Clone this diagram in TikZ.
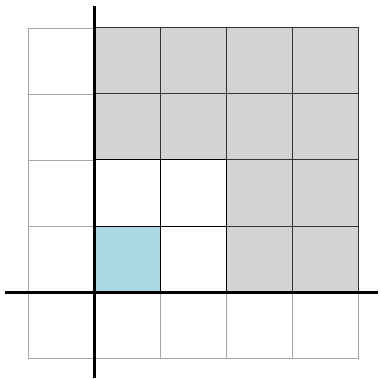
\documentclass[tikz,border=0pt]{standalone}
\begin{document}
\begin{tikzpicture}[x=1pt,y=-1pt,
  gridcell/.style={draw=black!35, line width=0.9pt},
  graycell/.style={fill=lightgray, draw=black!80, line width=1pt},
  whitecell/.style={fill=white, draw=black, line width=1pt},
  axis/.style={line width=3pt, black}]
\definecolor{lightbluec}{HTML}{ADD8E6}
\definecolor{lightgray}{HTML}{D3D3D3}
\useasboundingbox (0,0) rectangle (379,379);
% background grid
\foreach \i in {0,...,4}{
  \foreach \j in {0,...,4}{
    \draw[gridcell] (28+66*\i,28+66*\j) rectangle ++(66,66);
  }
}
% gray cells
\foreach \i/\j in {1/0,2/0,3/0,4/0,1/1,2/1,3/1,4/1,3/2,4/2,3/3,4/3}{
  \draw[graycell] (28+66*\i,28+66*\j) rectangle ++(66,66);
}
% white bold cells
\foreach \i/\j in {1/2,2/2,2/3}{
  \draw[whitecell] (28+66*\i,28+66*\j) rectangle ++(66,66);
}
\draw[fill=lightbluec, draw=black, line width=1pt] (94,226) rectangle ++(66,66);
% axes
\coordinate (ytop) at (94,6);
\coordinate (ybot) at (94,378);
\coordinate (xl) at (5,292);
\coordinate (xr) at (378,292);
\draw[axis] (ytop) -- (ybot);
\draw[axis] (xl) -- (xr);
\end{tikzpicture}
\end{document}
